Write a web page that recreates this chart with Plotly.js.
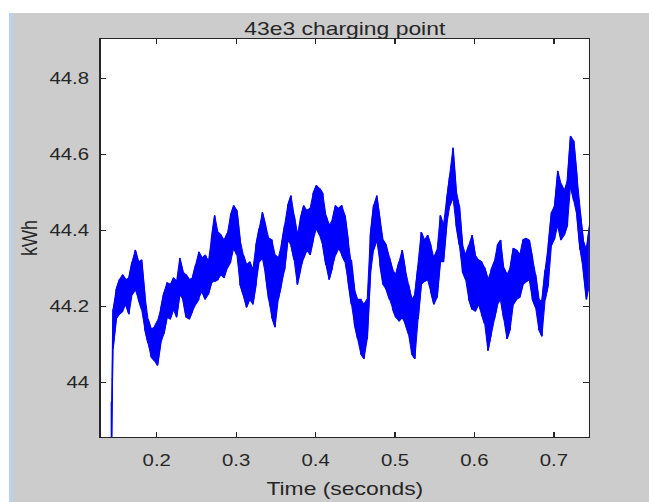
<!DOCTYPE html>
<html>
<head>
<meta charset="utf-8">
<script src="https://cdn.plot.ly/plotly-3.0.1.min.js"></script>
<style>
  html, body { margin:0; padding:0; background:#ffffff; }
  body { width:649px; height:502px; overflow:hidden; position:relative; }
  #stripe { position:absolute; left:9px; top:13px; width:4px; height:489px; background:#bcd3ec; }
  #wrap { position:absolute; left:13px; top:13px; width:636px; height:489px; overflow:hidden; background:#cccccc; }
  #chart { width:494px; height:489px; transform:scaleX(1.2713); transform-origin:0 0; }
</style>
</head>
<body>
<div id="stripe"></div>
<div id="wrap"><div id="chart"></div></div>
<script>
const titleText = '43e3 charging point';
const xLabel = 'Time (seconds)';
const yLabel = 'kWh';
const xTicks = [0.2, 0.3, 0.4, 0.5, 0.6, 0.7];
const yTicks = [44, 44.2, 44.4, 44.6, 44.8];

const times = [0.1430,0.1437,
0.145,0.149,0.153,0.157,0.161,0.165,0.169,0.173,0.177,0.181,
0.185,0.189,0.193,0.197,0.201,0.205,0.209,0.213,0.217,0.221,
0.225,0.229,0.233,0.237,0.241,0.245,0.249,0.253,0.257,0.261,
0.265,0.269,0.273,0.277,0.281,0.285,0.289,0.293,0.297,0.301,
0.305,0.309,0.313,0.317,0.321,0.325,0.329,0.333,0.337,0.341,
0.345,0.349,0.353,0.357,0.361,0.365,0.369,0.373,0.377,0.381,
0.385,0.389,0.393,0.397,0.401,0.405,0.409,0.413,0.417,0.421,
0.425,0.429,0.433,0.437,0.441,0.445,0.449,0.453,0.457,0.461,
0.465,0.469,0.473,0.477,0.481,0.485,0.489,0.493,0.497,0.501,
0.505,0.509,0.513,0.517,0.521,0.525,0.529,0.533,0.537,0.541,
0.545,0.549,0.553,0.557,0.561,0.565,0.569,0.573,0.577,0.581,
0.585,0.589,0.593,0.597,0.601,0.605,0.609,0.613,0.617,0.621,
0.625,0.629,0.633,0.637,0.641,0.645,0.649,0.653,0.657,0.661,
0.665,0.669,0.673,0.677,0.681,0.685,0.689,0.693,0.697,0.701,
0.705,0.709,0.713,0.717,0.721,0.725,0.729,0.733,0.737,0.741,
0.745];

const hiKwh = [43.95,43.95,
44.193,44.245,44.271,44.284,44.271,44.276,44.318,44.349,44.318,44.323,
44.232,44.167,44.141,44.146,44.162,44.193,44.237,44.263,44.258,44.276,
44.266,44.328,44.292,44.284,44.271,44.276,44.310,44.344,44.328,44.336,
44.318,44.380,44.440,44.396,44.388,44.375,44.393,44.440,44.466,44.453,
44.375,44.336,44.310,44.318,44.297,44.362,44.406,44.448,44.414,44.380,
44.375,44.336,44.328,44.362,44.414,44.466,44.492,44.440,44.388,44.432,
44.466,44.453,44.458,44.498,44.519,44.511,44.498,44.440,44.414,44.427,
44.466,44.458,44.466,44.440,44.375,44.323,44.245,44.219,44.219,44.206,
44.219,44.388,44.466,44.492,44.427,44.375,44.362,44.328,44.297,44.284,
44.318,44.349,44.297,44.258,44.219,44.232,44.305,44.396,44.375,44.388,
44.362,44.328,44.349,44.440,44.414,44.479,44.544,44.618,44.505,44.466,
44.362,44.336,44.362,44.388,44.336,44.323,44.318,44.302,44.271,44.297,
44.318,44.362,44.375,44.302,44.284,44.302,44.354,44.349,44.336,44.375,
44.380,44.375,44.328,44.284,44.219,44.214,44.297,44.362,44.448,44.466,
44.557,44.523,44.505,44.532,44.649,44.636,44.544,44.446,44.375,44.349,
44.414];

const loKwh = [43.80,43.92,
44.090,44.167,44.180,44.188,44.206,44.180,44.232,44.245,44.219,44.193,
44.141,44.104,44.068,44.058,44.045,44.104,44.128,44.172,44.167,44.193,
44.172,44.232,44.219,44.172,44.167,44.188,44.206,44.219,44.240,44.219,
44.232,44.263,44.266,44.271,44.284,44.276,44.302,44.318,44.354,44.336,
44.258,44.232,44.198,44.219,44.206,44.258,44.318,44.328,44.284,44.219,
44.172,44.146,44.219,44.258,44.297,44.375,44.362,44.323,44.258,44.297,
44.328,44.349,44.336,44.375,44.406,44.388,44.362,44.310,44.271,44.302,
44.336,44.354,44.336,44.318,44.266,44.206,44.154,44.115,44.076,44.063,
44.115,44.284,44.349,44.375,44.310,44.258,44.245,44.219,44.193,44.172,
44.162,44.172,44.154,44.128,44.076,44.063,44.167,44.258,44.266,44.271,
44.240,44.206,44.224,44.318,44.318,44.414,44.466,44.487,44.414,44.362,
44.292,44.271,44.219,44.193,44.188,44.206,44.180,44.154,44.084,44.128,
44.167,44.206,44.219,44.167,44.115,44.141,44.206,44.219,44.224,44.258,
44.266,44.271,44.219,44.198,44.141,44.122,44.219,44.258,44.362,44.380,
44.414,44.375,44.388,44.414,44.519,44.479,44.440,44.349,44.297,44.219,
44.258];

// zig-zag path through the sampled envelope (dense noisy signal)
const zx = [], zy = [];
for (let i = 0; i < times.length; i++) {
  if (i % 2 === 0) { zx.push(times[i], times[i]); zy.push(hiKwh[i], loKwh[i]); }
  else { zx.push(times[i], times[i]); zy.push(loKwh[i], hiKwh[i]); }
}

const blue = '#0000ff';
const txt = '#262626';
const fam = 'Liberation Sans, Arial, Helvetica, sans-serif';

const data = [
  { x: times, y: loKwh, type: 'scatter', mode: 'lines', line: { color: blue, width: 0.8 }, hoverinfo: 'skip', showlegend: false },
  { x: times, y: hiKwh, type: 'scatter', mode: 'lines', fill: 'tonexty', fillcolor: blue, line: { color: blue, width: 0.8 }, hoverinfo: 'skip', showlegend: false },
  { x: zx, y: zy, type: 'scatter', mode: 'lines', line: { color: blue, width: 1.2 }, showlegend: false }
];

const layout = {
  width: 494, height: 489,
  paper_bgcolor: '#cccccc',
  plot_bgcolor: '#ffffff',
  margin: { l: 69, r: 41, t: 26, b: 65, pad: 0 },
  showlegend: false,
  title: { text: titleText, font: { family: fam, size: 18, color: txt }, x: 0.5, xref: 'paper', xanchor: 'center', y: 1 - 16/489, yref: 'container', yanchor: 'middle' },
  xaxis: {
    range: [0.1295, 0.7441], tickvals: xTicks, ticktext: xTicks.map(String),
    ticks: 'inside', ticklen: 5, tickwidth: 1, tickcolor: txt,
    showline: true, linecolor: txt, linewidth: 1, mirror: 'ticks',
    showgrid: false, zeroline: false,
    tickfont: { family: fam, size: 16, color: txt },
    ticklabelstandoff: 9,
    title: { text: xLabel, font: { family: fam, size: 18, color: txt }, standoff: 14 }
  },
  yaxis: {
    range: [43.857, 44.904], tickvals: yTicks, ticktext: yTicks.map(String),
    ticks: 'inside', ticklen: 4.5, tickwidth: 1, tickcolor: txt,
    showline: true, linecolor: txt, linewidth: 1, mirror: 'ticks',
    showgrid: false, zeroline: false,
    tickfont: { family: fam, size: 16, color: txt },
    ticklabelstandoff: 5,
    title: { text: yLabel, font: { family: fam, size: 18, color: txt }, standoff: 4 }
  }
};

Plotly.newPlot('chart', data, layout, { displayModeBar: false, staticPlot: true });
</script>
</body>
</html>
